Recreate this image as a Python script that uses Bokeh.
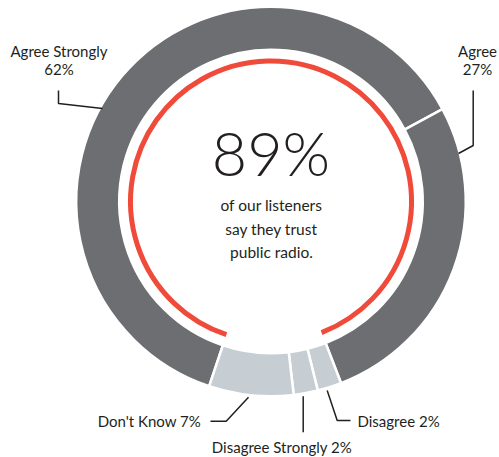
import numpy as np
from bokeh.plotting import figure
from bokeh.models import Range1d
from bokeh.core.properties import value
from bokeh.embed import file_html
from bokeh.resources import INLINE

# ---- data ----
categories = ["Agree Strongly", "Agree", "Disagree", "Disagree Strongly", "Don't Know"]
shares = [62, 27, 2, 2, 7]
label_lines = [["Agree Strongly", "62%"], ["Agree", "27%"], ["Disagree 2%"],
               ["Disagree Strongly 2%"], ["Don't Know 7%"]]
trust_share = shares[0] + shares[1]
headline = f"{trust_share}%"
subtitle = ["of our listeners", "say they trust", "public radio."]

# ---- style ----
DARK = "#6d6e71"
LIGHT = "#c6ced3"
RED = "#f04b3a"
INK = "#231f20"
seg_colors = [DARK, DARK, LIGHT, LIGHT, LIGHT]
FONT = value("Lato")
FONT_LIGHT = value("Lato Light, Lato")

W, H = 499, 457
def Y(ry):  # pixel y from top -> data y (y up)
    return H - ry

cx, cy = 270.5, Y(201)
r_out, r_in, r_red = 193.5, 153.0, 140.5
start_cw = 198.5  # degrees clockwise from top

p = figure(width=W, height=H, output_backend="svg", toolbar_location=None,
           x_range=Range1d(0, W), y_range=Range1d(0, H), min_border=0)
p.axis.visible = False
p.grid.visible = False
p.outline_line_color = None
p.background_fill_color = "white"
p.border_fill_color = "white"

cum = np.cumsum([0] + shares) / sum(shares) * 360.0
a0 = np.radians(90 - (start_cw + cum[:-1]))
a1 = np.radians(90 - (start_cw + cum[1:]))
p.annular_wedge(x=cx, y=cy, inner_radius=r_in - 1.25, outer_radius=r_out + 1.25,
                start_angle=a0, end_angle=a1, direction="clock",
                fill_color=seg_colors, line_color="white", line_width=2.5)

# red trust arc
p.arc(x=cx, y=cy, radius=r_red,
      start_angle=np.radians(90 - start_cw),
      end_angle=np.radians(90 - (start_cw + trust_share / 100 * 360)),
      direction="clock", line_color=RED, line_width=5)

# center texts (baselines compensated for the renderer's offset)
p.text(x=[270.5], y=[Y(152)], text=[headline], text_font=FONT_LIGHT, text_font_size="61px",
       text_color=INK, text_align="center", text_baseline="alphabetic")
p.text(x=[271, 271, 271], y=[Y(204.5), Y(228.5), Y(251.5)], text=subtitle, text_font=FONT,
       text_font_size="15.5px", text_color=INK, text_align="center",
       text_baseline="alphabetic")

# labels
lab_x = [58.5, 58.5, 477, 477, 357, 281.5, 200.5]
lab_y = [Y(50.5), Y(68.5), Y(50.5), Y(68.5), Y(420), Y(446), Y(420)]
lab_t = label_lines[0] + label_lines[1] + label_lines[2] + label_lines[3] + label_lines[4]
lab_a = ["center", "center", "center", "center", "left", "center", "right"]
p.text(x=lab_x, y=lab_y, text=lab_t, text_font=FONT, text_font_size="15px",
       text_color=INK, text_align=lab_a, text_baseline="alphabetic")

# leader lines
leaders_x = [[58, 58, 102], [472.7, 472.7, 458], [326.7, 336.7, 350],
             [302.7, 302.7], [210, 225.7, 248]]
leaders_y = [[90, 103, 108], [90, 145, 153], [390, 420, 420],
             [395.7, 431.7], [420.7, 420.7, 396.7]]
p.multi_line(xs=leaders_x, ys=[[Y(v) for v in ys] for ys in leaders_y],
             line_color=INK, line_width=1.5)

open("out.html", "w").write(file_html(p, INLINE))
